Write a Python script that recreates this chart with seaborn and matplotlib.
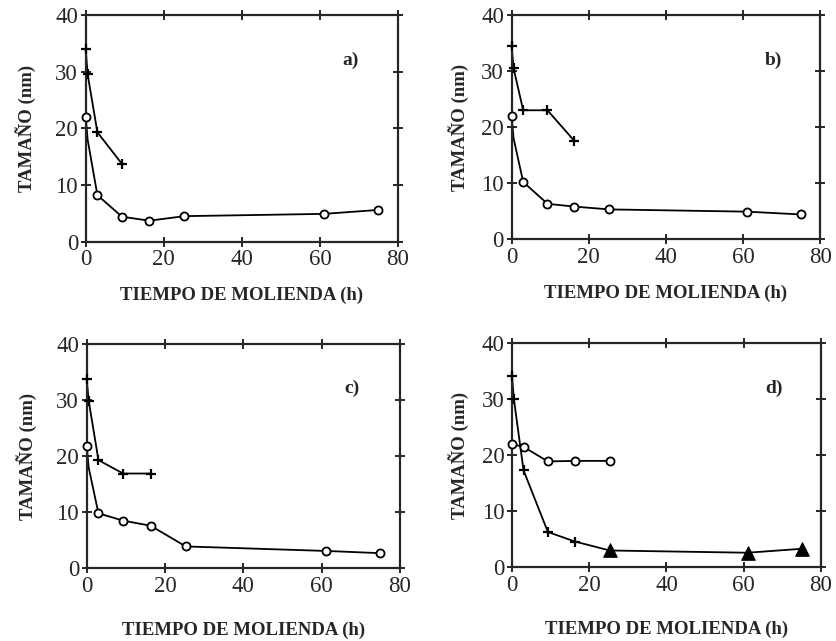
import matplotlib
matplotlib.use("Agg")
import matplotlib.pyplot as plt
import seaborn as sns
import pandas as pd

# milling times (h)
TIMES = [0, 0.5, 3, 9.3, 16.3, 25.3, 61, 75]

# panel a
a_circle = [22, 18, 8.2, 4.4, 3.7, 4.5, 4.9, 5.6]
a_cross = [34, 29.5, 19.3, 13.7]
# panel b
b_circle = [22, 18, 10.2, 6.3, 5.8, 5.3, 4.9, 4.4]
b_cross = [34.5, 30.5, 23, 23, 17.5]
# panel c
c_circle = [21.8, 18, 9.8, 8.5, 7.6, 3.9, 3.1, 2.7]
c_cross = [33.8, 29.9, 19.3, 16.9, 16.9]
# panel d
d_circle_t = [0, 3, 9.3, 16.3, 25.3]
d_circle = [22, 21.5, 18.9, 19, 19]
d_cross = [34.2, 30, 17.3, 6.3, 4.6]
d_tri_t = [25.3, 61, 75]
d_tri = [3.0, 2.6, 3.3]

PANEL_LABELS = ["a)", "b)", "c)", "d)"]
XLABEL = "TIEMPO DE MOLIENDA (h)"
YLABEL = "TAMAÑO (nm)"

sns.set_style("ticks")
plt.rcParams['font.family'] = ['Liberation Serif', 'DejaVu Serif']

fig = plt.figure(figsize=(8.36, 6.41), dpi=100)
rects = [[0.1025, 0.623, 0.3736, 0.3537],
         [0.612, 0.627, 0.369, 0.3495],
         [0.1037, 0.1134, 0.3748, 0.350],
         [0.6124, 0.115, 0.3696, 0.3495]]
axes = [fig.add_axes(r) for r in rects]


def line(ax, x, y):
    df = pd.DataFrame({"t": x, "size": y})
    sns.lineplot(data=df, x="t", y="size", ax=ax, color="black", lw=1.3,
                 sort=False, estimator=None, clip_on=False)


def circles(ax, x, y):
    sns.scatterplot(x=x, y=y, ax=ax, marker="o", color="white",
                    edgecolor="black", linewidth=1.3, s=34, zorder=5, clip_on=False)


def crosses(ax, x, y):
    sns.scatterplot(x=x, y=y, ax=ax, marker="+", color="black",
                    linewidth=1.6, s=60, zorder=5, clip_on=False)


# a, b, c share the same layout
for ax, circ, cross in zip(axes[:3], [a_circle, b_circle, c_circle],
                           [a_cross, b_cross, c_cross]):
    line(ax, TIMES, circ)
    circles(ax, [TIMES[0]] + TIMES[2:], [circ[0]] + circ[2:])
    t = TIMES[:len(cross)]
    line(ax, t, cross)
    crosses(ax, t, cross)

ax = axes[3]
line(ax, d_circle_t, d_circle)
circles(ax, d_circle_t, d_circle)
t = TIMES[:len(d_cross)]
line(ax, t + d_tri_t, d_cross + d_tri)
crosses(ax, t, d_cross)
sns.scatterplot(x=d_tri_t, y=d_tri, ax=ax, marker="^", color="black",
                edgecolor="black", s=95, zorder=5)

for i, (ax, lab) in enumerate(zip(axes, PANEL_LABELS)):
    ax.set_xlim(0, 80)
    ax.set_ylim(0, 40)
    ax.set_xticks([0, 20, 40, 60, 80])
    ax.set_yticks([0, 10, 20, 30, 40])
    ax.tick_params(direction="inout", length=7, width=1.4, top=True, right=True,
                   labelsize=16.5, pad=2)
    for s in ax.spines.values():
        s.set_linewidth(1.6)
    ax.set_xlabel(XLABEL, fontsize=13.5, fontweight="bold",
                  labelpad=12 if i < 2 else 18)
    ax.set_ylabel(YLABEL, fontsize=13.5, fontweight="bold",
                  labelpad=14 if i % 2 == 0 else 9)
    ax.text(67.8, 32, lab, fontsize=14, fontweight="bold", ha="center", va="center")

fig.savefig("out.png", dpi=100)
